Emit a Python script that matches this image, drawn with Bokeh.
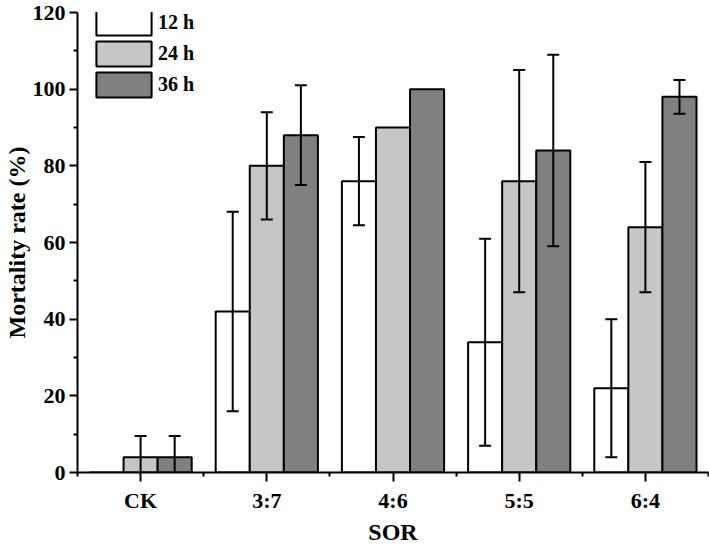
from bokeh.plotting import figure
from bokeh.models import Range1d, FixedTicker, Legend, LegendItem, ColumnDataSource
from bokeh.embed import file_html
from bokeh.resources import INLINE

categories = ["CK", "3:7", "4:6", "5:5", "6:4"]
series_names = ["12 h", "24 h", "36 h"]
vals_12h = [0, 42, 76, 34, 22]
err_12h = [0, 26, 11.5, 27, 18]
vals_24h = [4, 80, 90, 76, 64]
err_24h = [5.5, 14, 0, 29, 17]
vals_36h = [4, 88, 100, 84, 98]
err_36h = [5.5, 13, 0, 25, 4.4]
y_ticks = [0, 20, 40, 60, 80, 100, 120]
y_minor = [10, 30, 50, 70, 90, 110]

colors = ["#ffffff", "#c6c6c6", "#808080"]
FONT = "Liberation Serif"
bar_w = 0.27
offsets = [-bar_w, 0.0, bar_w]

p = figure(width=709, height=547, output_backend="svg", toolbar_location=None,
           x_range=Range1d(0, len(categories)), y_range=Range1d(0, 120))
p.min_border_left = 77
p.min_border_right = 1
p.min_border_top = 12
p.min_border_bottom = 75
p.outline_line_color = None
p.grid.visible = False
p.background_fill_color = "white"
p.border_fill_color = "white"

renderers = []
all_series = [(vals_12h, err_12h), (vals_24h, err_24h), (vals_36h, err_36h)]
for k, (vals, errs) in enumerate(all_series):
    xs = [i + 0.5 + offsets[k] for i in range(len(categories))]
    src = ColumnDataSource(dict(x=xs, top=vals))
    r = p.vbar(x="x", top="top", width=bar_w, bottom=0, source=src,
               fill_color=colors[k], line_color="black", line_width=2)
    renderers.append(r)

for k, (vals, errs) in enumerate(all_series):
    xs, lo, hi = [], [], []
    for i in range(len(categories)):
        if errs[i] > 0:
            xs.append(i + 0.5 + offsets[k])
            lo.append(vals[i] - errs[i])
            hi.append(vals[i] + errs[i])
    esrc = ColumnDataSource(dict(x=xs, lo=lo, hi=hi))
    p.segment(x0="x", y0="lo", x1="x", y1="hi", source=esrc, line_color="black", line_width=2)
    p.scatter(x="x", y="lo", source=esrc, marker="dash", size=12, line_color="black", line_width=2)
    p.scatter(x="x", y="hi", source=esrc, marker="dash", size=12, line_color="black", line_width=2)

# axes
xa = p.xaxis[0]
xa.ticker = FixedTicker(ticks=[i + 0.5 for i in range(len(categories))],
                        minor_ticks=list(range(len(categories) + 1)))
xa.major_label_overrides = {i + 0.5: c for i, c in enumerate(categories)}
xa.axis_label = "SOR"
ya = p.yaxis[0]
ya.ticker = FixedTicker(ticks=y_ticks, minor_ticks=y_minor)
ya.axis_label = "Mortality rate (%)"

for ax in (xa, ya):
    ax.axis_line_width = 2
    ax.axis_line_color = "black"
    ax.major_tick_line_width = 2
    ax.minor_tick_line_width = 2
    ax.major_tick_line_color = "black"
    ax.minor_tick_line_color = "black"
    ax.major_tick_in = 0
    ax.minor_tick_in = 0
    ax.major_label_text_font = FONT
    ax.major_label_text_font_style = "bold"
    ax.major_label_text_color = "black"
    ax.major_label_text_font_size = "22px"
    ax.axis_label_text_font = FONT
    ax.axis_label_text_font_style = "bold"
    ax.axis_label_text_color = "black"
    ax.axis_label_text_font_size = "24px"

xa.major_tick_out = 9
xa.minor_tick_out = 4
xa.major_label_standoff = 6
xa.axis_label_standoff = 3
ya.major_tick_out = 8
ya.minor_tick_out = 4
ya.major_label_standoff = 4
ya.axis_label_standoff = 0

# Bokeh insets area legend glyphs by 10% on each side
legend = Legend(items=[LegendItem(label=n, renderers=[r]) for n, r in zip(series_names, renderers)],
                location=(12, 372))
legend.glyph_width = 69
legend.glyph_height = 31
legend.spacing = 0
legend.padding = 0
legend.margin = 0
legend.label_standoff = 0
legend.border_line_color = None
legend.background_fill_alpha = 0
legend.label_text_font = FONT
legend.label_text_font_style = "bold"
legend.label_text_font_size = "20px"
legend.label_text_color = "black"
p.add_layout(legend, "center")

open("out.html", "w").write(file_html(p, INLINE))
